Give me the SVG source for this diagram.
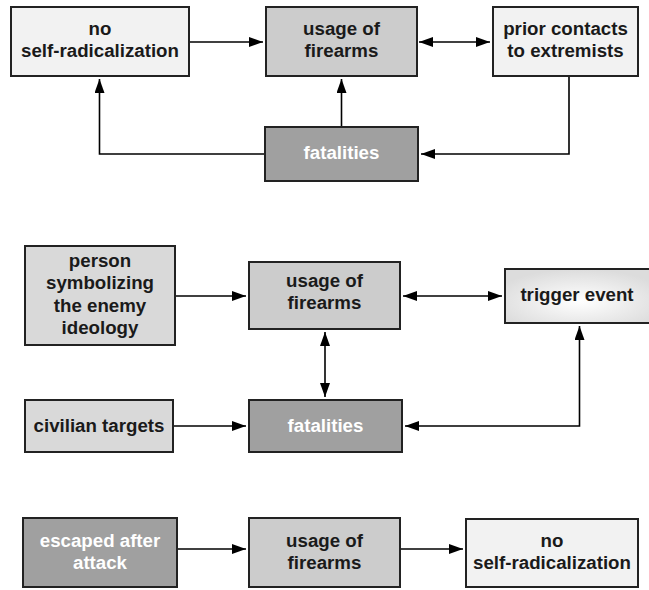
<svg xmlns="http://www.w3.org/2000/svg" width="649" height="590" viewBox="0 0 649 590">
<style>
.box{stroke:#222;stroke-width:2}
.light{fill:#f2f2f2}
.mid{fill:#cccccc}
.pale{fill:#d9d9d9}
.dark{fill:#a0a0a0}
text{font-family:"Liberation Sans",Arial,sans-serif;font-weight:bold;font-size:18.7px;text-anchor:middle;fill:#1a1a1a}
text.w{fill:#ffffff}
.c{fill:none;stroke:#000;stroke-width:1.6}
.e{marker-end:url(#ah)}
.b{marker-start:url(#ah);marker-end:url(#ah)}
</style>
<defs>
<marker id="ah" markerUnits="userSpaceOnUse" markerWidth="14" markerHeight="10" refX="14" refY="5" orient="auto-start-reverse">
<path d="M0,0 L14,5 L0,10 z" fill="#000"/>
</marker>
<radialGradient id="tg" cx="0.5" cy="0.6" r="0.6">
<stop offset="0" stop-color="#ffffff"/>
<stop offset="1" stop-color="#dcdcdc"/>
</radialGradient>
</defs>
<g id="connectors">
<line class="c e" x1="189" y1="42" x2="263" y2="42"/>
<line class="c b" x1="419" y1="42" x2="490" y2="42"/>
<line class="c e" x1="341.5" y1="127" x2="341.5" y2="79"/>
<polyline class="c e" points="265,154 99.5,154 99.5,79"/>
<polyline class="c e" points="569,76 569,154 421,154"/>
<line class="c e" x1="175" y1="296" x2="246" y2="296"/>
<line class="c b" x1="403" y1="296" x2="502" y2="296"/>
<line class="c b" x1="325" y1="332" x2="325" y2="397"/>
<line class="c e" x1="173" y1="426" x2="246" y2="426"/>
<polyline class="c b" points="405,426 579.5,426 579.5,326"/>
<line class="c e" x1="177" y1="549" x2="246" y2="549"/>
<line class="c e" x1="400" y1="549" x2="463" y2="549"/>
</g>
<g id="n1"><rect class="box light" x="11" y="7" width="178" height="69"/><text x="100" y="35">no</text><text x="100" y="57">self-radicalization</text></g>
<g id="n2"><rect class="box mid" x="266" y="7" width="151" height="69"/><text x="341.5" y="35">usage of</text><text x="341.5" y="57">firearms</text></g>
<g id="n3"><rect class="box light" x="493" y="7" width="145" height="69"/><text x="565.5" y="35">prior contacts</text><text x="565.5" y="57">to extremists</text></g>
<g id="n4"><rect class="box dark" x="265" y="127" width="153" height="54"/><text class="w" x="341.5" y="159">fatalities</text></g>
<g id="n5"><rect class="box pale" x="25" y="246" width="150" height="99"/><text x="100" y="266.5">person</text><text x="100" y="289">symbolizing</text><text x="100" y="311.5">the enemy</text><text x="100" y="334">ideology</text></g>
<g id="n6"><rect class="box mid" x="249" y="262" width="151" height="67"/><text x="324.5" y="286.5">usage of</text><text x="324.5" y="309">firearms</text></g>
<g id="n7"><rect class="box" fill="url(#tg)" x="505" y="269" width="150" height="54"/><text x="577" y="301">trigger event</text></g>
<g id="n8"><rect class="box pale" x="25" y="400" width="148" height="52"/><text x="99" y="431.5">civilian targets</text></g>
<g id="n9"><rect class="box dark" x="249" y="400" width="153" height="52"/><text class="w" x="325.5" y="431.5">fatalities</text></g>
<g id="n10"><rect class="box dark" x="23" y="518" width="154" height="69"/><text class="w" x="100" y="546.5">escaped after</text><text class="w" x="100" y="568.5">attack</text></g>
<g id="n11"><rect class="box mid" x="249" y="518" width="151" height="69"/><text x="324.5" y="546.5">usage of</text><text x="324.5" y="568.5">firearms</text></g>
<g id="n12"><rect class="box light" x="466" y="519" width="172" height="68"/><text x="552" y="546.5">no</text><text x="552" y="568.5">self-radicalization</text></g>
</svg>
